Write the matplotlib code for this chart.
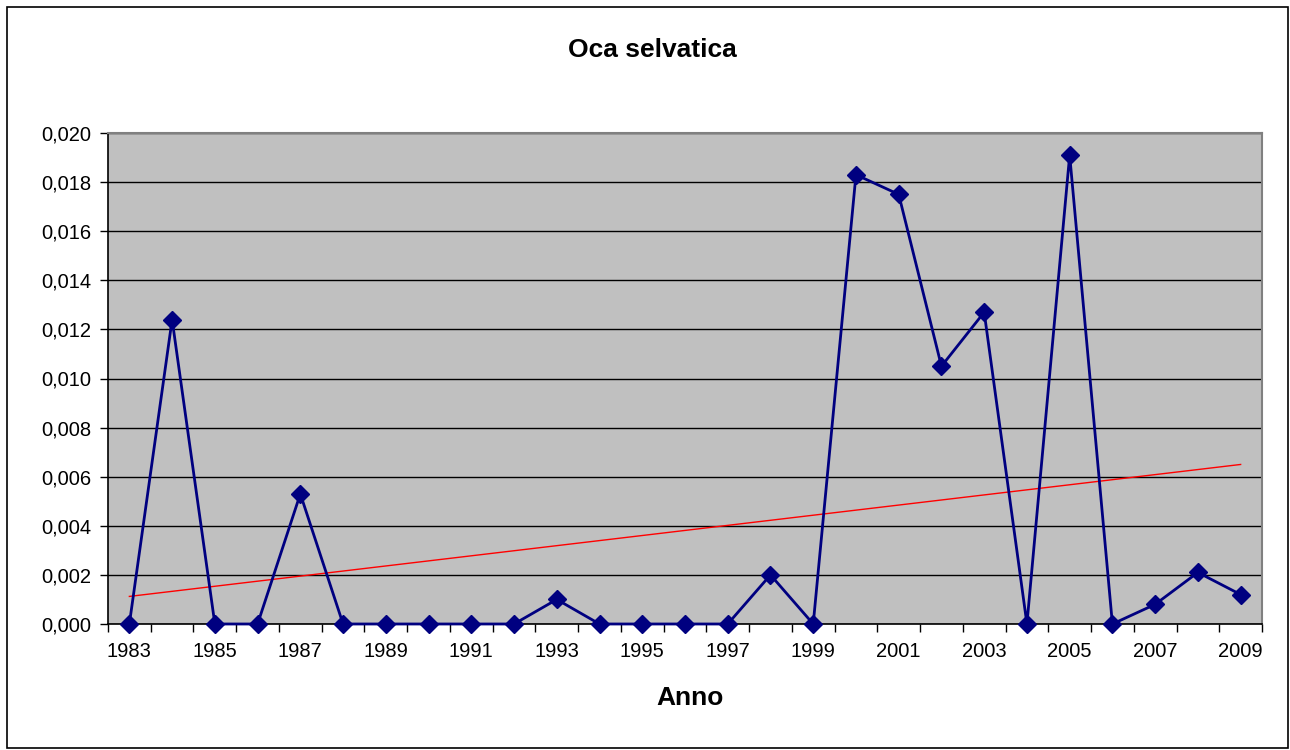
import matplotlib
matplotlib.use("Agg")
import matplotlib.pyplot as plt
import numpy as np
from matplotlib.patches import Rectangle
from matplotlib.ticker import FixedLocator, FuncFormatter

plt.rcParams['font.family'] = ['Liberation Sans', 'DejaVu Sans']

years = list(range(1983, 2010))
values = [0.0, 0.0124, 0.0, 0.0, 0.0053, 0.0, 0.0, 0.0, 0.0, 0.0,
          0.0010, 0.0, 0.0, 0.0, 0.0, 0.0020, 0.0, 0.0183, 0.0175, 0.0105,
          0.0127, 0.0, 0.0191, 0.0, 0.0008, 0.0021, 0.0012]
title = "Oca selvatica"
xlabel = "Anno"

fig = plt.figure(figsize=(12.9, 7.5), dpi=100)
fig.patches.append(Rectangle((7/1290, 2/750), 1281/1290, 741/750, transform=fig.transFigure,
                             fill=False, edgecolor='black', linewidth=1.2))
ax = fig.add_axes([108/1290, 126/750, 1154/1290, 491/750])
ax.set_facecolor('#C0C0C0')

x = np.arange(len(years))
ax.set_xlim(-0.5, len(years) - 0.5)
ax.set_ylim(0, 0.020)

ax.set_yticks(np.arange(0, 0.0201, 0.002))
ax.yaxis.set_major_formatter(FuncFormatter(lambda v, p: f"{v:.3f}".replace('.', ',')))
ax.grid(axis='y', color='black', linewidth=1.0)
ax.set_axisbelow(True)

ax.plot(x, values, color='#000080', linewidth=2, marker='D', markersize=9, zorder=3, clip_on=False)

coef = np.polyfit(x, values, 1)
ax.plot(x, np.polyval(coef, x), color='#FF0000', linewidth=1, zorder=2)

ax.xaxis.set_major_locator(FixedLocator(x[::2]))
ax.set_xticklabels([str(y) for y in years[::2]])
ax.xaxis.set_minor_locator(FixedLocator(np.arange(-0.5, len(years), 1.0)))
ax.tick_params(axis='x', which='major', length=0, labelsize=14.5, pad=13, colors='black')
ax.tick_params(axis='x', which='minor', length=6, width=1, direction='out')
ax.tick_params(axis='y', length=6, width=1, labelsize=14.5, pad=6)

for side in ['top', 'right']:
    ax.spines[side].set_color('#808080')
    ax.spines[side].set_linewidth(1.5)
for side in ['left', 'bottom']:
    ax.spines[side].set_color('black')
    ax.spines[side].set_linewidth(1.2)

fig.text(652/1290, 1 - 50/750, title, ha='center', va='center', fontsize=19, fontweight='bold')
fig.text(690/1290, 1 - 698/750, xlabel, ha='center', va='center', fontsize=19, fontweight='bold')

fig.savefig("out.png", dpi=100)
